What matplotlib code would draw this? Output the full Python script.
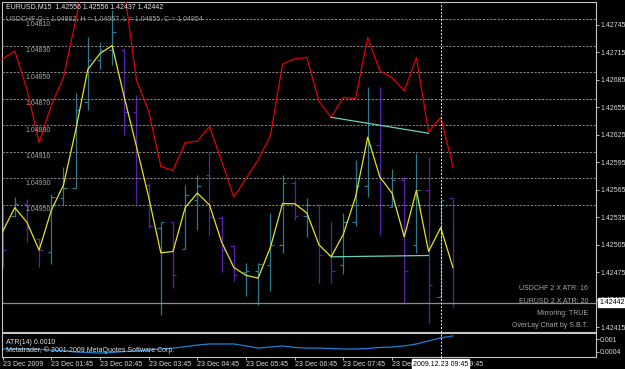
import matplotlib.pyplot as plt
import numpy as np

plt.rcParams['font.family'] = ['Liberation Sans', 'DejaVu Sans']

# EURUSD M15 bars, 23 Dec 2009 from 00:45
eur_open = [1.42537, 1.42537, 1.42550, 1.42512, 1.42497, 1.42556, 1.42567, 1.42661, 1.42707, 1.42718,
            1.42718, 1.42650, 1.42570, 1.42523, 1.42530, 1.42501, 1.42554, 1.42581, 1.42534, 1.42504,
            1.42475, 1.42477, 1.42483, 1.42505, 1.42573, 1.42537, 1.42548, 1.42494, 1.42483, 1.42530,
            1.42569, 1.42614, 1.42546, 1.42576, 1.42505, 1.42565, 1.42448, 1.42556]
eur_high = [1.42548, 1.42557, 1.42555, 1.42513, 1.42560, 1.42590, 1.42671, 1.42732, 1.42726, 1.42761,
            1.42720, 1.42669, 1.42572, 1.42530, 1.42530, 1.42570, 1.42581, 1.42606, 1.42537, 1.42505,
            1.42485, 1.42485, 1.42540, 1.42581, 1.42576, 1.42556, 1.42550, 1.42530, 1.42540, 1.42598,
            1.42677, 1.42677, 1.42588, 1.42579, 1.42605, 1.42601, 1.42554, 1.42556]
eur_low = [1.42480, 1.42535, 1.42508, 1.42481, 1.42484, 1.42548, 1.42567, 1.42652, 1.42697, 1.42701,
           1.42625, 1.42550, 1.42523, 1.42428, 1.42458, 1.42501, 1.42521, 1.42516, 1.42475, 1.42466,
           1.42449, 1.42439, 1.42455, 1.42496, 1.42532, 1.42514, 1.42463, 1.42464, 1.42473, 1.42526,
           1.42557, 1.42516, 1.42546, 1.42441, 1.42496, 1.42420, 1.42448, 1.42437]
eur_close = [1.42499, 1.42550, 1.42523, 1.42499, 1.42557, 1.42567, 1.42652, 1.42707, 1.42718, 1.42737,
             1.42650, 1.42578, 1.42526, 1.42530, 1.42472, 1.42559, 1.42569, 1.42535, 1.42499, 1.42472,
             1.42477, 1.42484, 1.42505, 1.42573, 1.42537, 1.42548, 1.42494, 1.42477, 1.42530, 1.42569,
             1.42614, 1.42548, 1.42576, 1.42477, 1.42565, 1.42461, 1.42554, 1.42442]
eur_levels = [1.42745, 1.42715, 1.42685, 1.42655, 1.42625, 1.42595, 1.42565,
              1.42535, 1.42505, 1.42475, 1.42445, 1.42415]
last_price = 1.42442

# USDCHF overlay, mirrored scale
chf_red = [1.04840, 1.04834, 1.04863, 1.04903, 1.04875, 1.04854, 1.04811, 1.04766, 1.04751, 1.04758,
           1.04788, 1.04856, 1.04879, 1.04921, 1.04924, 1.04903, 1.04902, 1.04891, 1.04917, 1.04944,
           1.04930, 1.04916, 1.04898, 1.04844, 1.04840, 1.04839, 1.04872, 1.04884, 1.04869, 1.04870,
           1.04824, 1.04849, 1.04854, 1.04864, 1.04839, 1.04895, 1.04884, 1.04921]
chf_yellow = [1.04970, 1.04952, 1.04963, 1.04984, 1.04954, 1.04935, 1.04894, 1.04848, 1.04836, 1.04830,
              1.04869, 1.04906, 1.04944, 1.04986, 1.04985, 1.04952, 1.04941, 1.04950, 1.04978, 1.04997,
              1.05003, 1.05005, 1.04982, 1.04949, 1.04949, 1.04956, 1.04980, 1.04989, 1.04972, 1.04944,
              1.04899, 1.04929, 1.04941, 1.04974, 1.04939, 1.04985, 1.04967, 1.04997]
chf_levels = [1.04810, 1.04830, 1.04850, 1.04870, 1.04890, 1.04910, 1.04930, 1.04950]

# trend lines on the overlay (bar, value)
trend_upper = ([27, 35], [1.04884, 1.04896])
trend_lower = ([27, 35], [1.04989, 1.04988])

atr = [0.00054, 0.00054, 0.00054, 0.00052, 0.00049, 0.00045, 0.00040, 0.00038, 0.00035, 0.00038,
       0.00042, 0.00045, 0.00049, 0.00054, 0.00058, 0.00065, 0.00072, 0.00077, 0.00077, 0.00077,
       0.00068, 0.00058, 0.00063, 0.00068, 0.00061, 0.00058, 0.00058, 0.00056, 0.00054, 0.00054,
       0.00056, 0.00061, 0.00063, 0.00068, 0.00077, 0.00091, 0.00105, 0.00114]
atr_levels = [0.001, 0.0004]
atr_labels = ["0.001", "0.0004"]

time_ticks = [0, 4, 8, 12, 16, 20, 24, 28, 32, 36]
time_labels = ["23 Dec 2009", "23 Dec 01:45", "23 Dec 02:45", "23 Dec 03:45", "23 Dec 04:45",
               "23 Dec 05:45", "23 Dec 06:45", "23 Dec 07:45", "23 Dec 08:45", "23 Dec 09:45"]
cursor_bar = 36
cursor_label = "2009.12.23 09:45"

TEAL = "#2b7a8e"
PURPLE = "#5a20ac"
RED = "#e00000"
YELLOW = "#e4e41c"
AQUA = "#6cd0b8"
GRID = "#8a8a8a"
BORDER = "#c4c4c4"
W, H = 625, 369
FS = 5.0

fig = plt.figure(figsize=(W / 100, H / 100), dpi=100, facecolor="black")

ax = fig.add_axes([2 / W, 1 - 332 / H, 594 / W, 330 / H], facecolor="black")
axa = fig.add_axes([2 / W, 1 - 357 / H, 594 / W, 24 / H], facecolor="black", sharex=ax)

# overlay axis (created first so the price scale stays on the right)
ax2 = ax.twinx()

x = np.arange(len(eur_close))
up = np.array(eur_close) >= np.array(eur_open)
colors = np.where(up, TEAL, PURPLE)
ax.vlines(x, eur_low, eur_high, colors=colors, lw=0.9)
ax.hlines(eur_open, x - 0.28, x, colors=colors, lw=0.9)
ax.hlines(eur_close, x, x + 0.28, colors=colors, lw=0.9)
ax.axhline(last_price, color="#8c8c8c", lw=0.9)

ax.set_xlim(-0.05, 594 / 12.17 - 0.05)
ax.set_ylim(1.42410, 1.42770)
ax.yaxis.tick_right()
ax.yaxis.set_label_position("right")
ax.set_yticks(eur_levels, [f"{v:.5f}" for v in eur_levels])
ax.tick_params(axis="y", which="both", left=False, labelleft=False, right=True, labelright=True,
               colors="#d8d8d8", labelsize=FS, length=2, width=0.6, pad=1)
ax.tick_params(axis="x", bottom=False, labelbottom=False)
for s in ax.spines.values():
    s.set_color(BORDER)
    s.set_linewidth(0.8)

ax2.set_ylim(1.050456, 1.047972)
ax2.set_yticks([])
ax2.tick_params(axis="y", left=False, right=False, labelleft=False, labelright=False)
for s in ax2.spines.values():
    s.set_visible(False)
for v in chf_levels:
    ax2.axhline(v, color=GRID, lw=0.7, ls=(0, (2.2, 1.6)))
    ax2.annotate(f"{v:.5f}", xy=(0.039, v), xycoords=ax2.get_yaxis_transform(),
                 xytext=(0, -5), textcoords="offset pixels", color="#a8a8a8",
                 fontsize=FS, va="center", ha="left")
ax2.plot(x, chf_red, color=RED, lw=0.9)
ax2.plot(x, chf_yellow, color=YELLOW, lw=0.9)
ax2.plot(*trend_upper, color=AQUA, lw=0.9)
ax2.plot(*trend_lower, color=AQUA, lw=0.9)
ax2.axvline(cursor_bar, color="#e8e8e8", lw=0.7, ls=(0, (2, 1.6)))

ax2.annotate(f"{last_price:.5f}", xy=(1, last_price), xycoords=ax.get_yaxis_transform(),
             xytext=(3, 0), textcoords="offset pixels", ha="left", va="center",
             fontsize=FS, color="black", annotation_clip=False,
             bbox=dict(boxstyle="square,pad=0.15", fc="white", ec="white"))

# ATR panel
axa.plot(x, atr, color="#1f7fd6", lw=0.9)
axa.set_ylim(0.000169, 0.001277)
axa.yaxis.tick_right()
axa.set_yticks(atr_levels, atr_labels)
axa.tick_params(axis="y", colors="#d8d8d8", labelsize=FS, length=2, width=0.6, pad=1)
axa.set_xticks(time_ticks, time_labels)
axa.tick_params(axis="x", colors="#d8d8d8", labelsize=FS, length=2, width=0.6, pad=1)
for lbl in axa.get_xticklabels():
    lbl.set_ha("left")
for s in axa.spines.values():
    s.set_color(BORDER)
    s.set_linewidth(0.8)
axa.axvline(cursor_bar, color="#e8e8e8", lw=0.7, ls=(0, (2, 1.6)))
axa.annotate(cursor_label, xy=(cursor_bar, 0), xycoords=("data", "axes fraction"),
             xytext=(0, -7), textcoords="offset pixels", ha="center", va="center",
             fontsize=FS, color="black", annotation_clip=False,
             bbox=dict(boxstyle="square,pad=0.15", fc="white", ec="white"))
axa.text(0.007, 0.62, "ATR(14) 0.0010", transform=axa.transAxes, color="#e0e0e0",
         fontsize=FS, va="center")
axa.text(0.007, 0.3, "Metatrader, \u00a9 2001-2009 MetaQuotes Software Corp.",
         transform=axa.transAxes, color="#e0e0e0", fontsize=FS, va="center")

# header and info texts
fig.text(6 / W, 1 - 7 / H, "EURUSD,M15  1.42556 1.42556 1.42437 1.42442",
         color="#e8e8e8", fontsize=FS, va="center")
fig.text(6 / W, 1 - 19 / H, "USDCHF O = 1.04862, H = 1.04957, L = 1.04855, C = 1.04954",
         color="#a0a0a0", fontsize=FS, va="center")
info = ["USDCHF 2 X ATR: 16", "EURUSD 2 X ATR: 20", "Mirroring: TRUE", "OverLay Chart by S.B.T."]
for k, t in enumerate(info):
    fig.text(588 / W, 1 - (289 + 12.2 * k) / H, t, color="#a8a8a8", fontsize=FS,
             ha="right", va="center")

fig.savefig("out.png", dpi=100, facecolor="black")
